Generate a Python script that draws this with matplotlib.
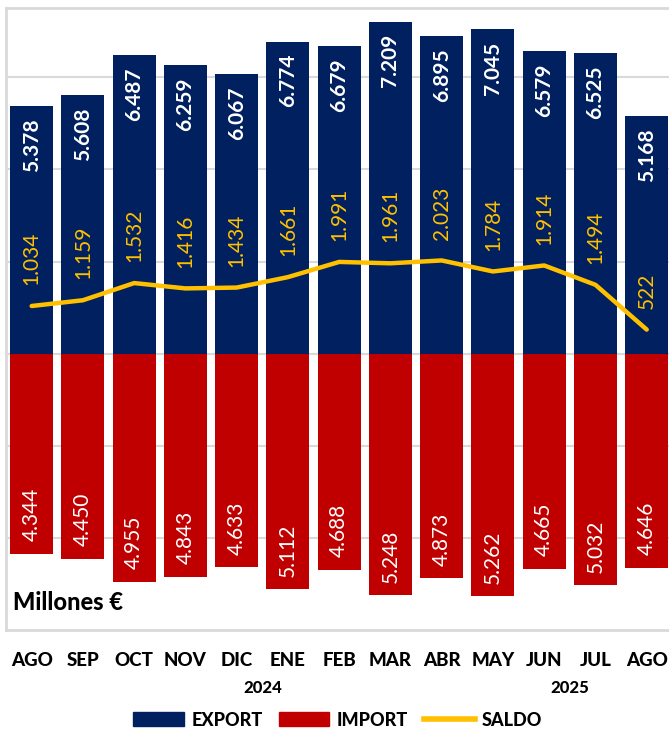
import matplotlib
matplotlib.use("Agg")
import matplotlib.pyplot as plt
import matplotlib.transforms as mtransforms
from matplotlib.patches import Patch
from matplotlib.lines import Line2D
import numpy as np

plt.rcParams['font.family'] = ['Lato', 'DejaVu Sans']

# Datos (millones de euros)
meses = ['AGO', 'SEP', 'OCT', 'NOV', 'DIC', 'ENE', 'FEB', 'MAR', 'ABR', 'MAY', 'JUN', 'JUL', 'AGO']
export = [5378, 5608, 6487, 6259, 6067, 6774, 6679, 7209, 6895, 7045, 6579, 6525, 5168]
importe = [4344, 4450, 4955, 4843, 4633, 5112, 4688, 5248, 4873, 5262, 4665, 5032, 4646]
saldo = [1034, 1159, 1532, 1416, 1434, 1661, 1991, 1961, 2023, 1784, 1914, 1494, 522]
anios = ['2024', '2025']
pos_anios = [4.5, 10.5]

AZUL = '#002060'
ROJO = '#C00000'
ORO = '#FFC000'
GRIS = '#D9D9D9'


def fmt(v):
    return f"{v:,}".replace(',', '.')


fig = plt.figure(figsize=(6.69, 7.29), dpi=100)
ax = fig.add_axes([0.009, 0.1358, 0.996, 0.853])

x = np.arange(len(meses))
ax.bar(x, export, width=0.84, color=AZUL, zorder=2)
ax.bar(x, [-v for v in importe], width=0.84, color=ROJO, zorder=2)
ax.plot(x, saldo, color=ORO, lw=3.2, zorder=3, solid_capstyle='round')

for i in range(len(meses)):
    ax.annotate(fmt(export[i]), (x[i], export[i]), xytext=(0, -9), textcoords='offset points',
                rotation=90, ha='center', va='top', color='white', fontsize=15, fontweight='bold', zorder=4)
    ax.annotate(fmt(importe[i]), (x[i], -importe[i]), xytext=(0, 9), textcoords='offset points',
                rotation=90, ha='center', va='bottom', color='white', fontsize=15, zorder=4)
    ax.annotate(fmt(saldo[i]), (x[i], saldo[i]), xytext=(0, 15), textcoords='offset points',
                rotation=90, ha='center', va='bottom', color=ORO, fontsize=15, zorder=4)

ax.set_xlim(-0.5, 12.5)
ax.set_ylim(-6000, 7500)
ax.set_yticks([-4000, -2000, 0, 2000, 4000, 6000])
ax.yaxis.grid(True, color=GRIS, lw=1.5, zorder=0)
ax.set_yticklabels([])
ax.tick_params(axis='y', length=0)
ax.set_xticks(x)
ax.set_xticklabels(meses, fontsize=13.5, fontweight='black')
ax.tick_params(axis='x', length=0, pad=16)
for s in ax.spines.values():
    s.set_color(GRIS)
    s.set_linewidth(2)

trans = mtransforms.blended_transform_factory(ax.transData, fig.transFigure)
for a, p in zip(anios, pos_anios):
    fig.text(p, 1 - 688 / 729, a, transform=trans, ha='center', va='center',
             fontsize=12, fontweight='black')

ax.text(0.01, 0.045, 'Millones €', transform=ax.transAxes, fontsize=17, fontweight='black',
        ha='left', va='center', zorder=5)

handles = [Patch(color=AZUL, label='EXPORT'), Patch(color=ROJO, label='IMPORT'),
           Line2D([0], [0], color=ORO, lw=4, label='SALDO')]
fig.legend(handles=handles, loc='center', bbox_to_anchor=(0.505, 1 - 720 / 729), ncol=3, frameon=False,
           prop={'weight': 'black', 'size': 13}, handlelength=2.8, handleheight=0.8, columnspacing=0.9,
           handletextpad=0.4)

fig.savefig('out.png', dpi=100)
